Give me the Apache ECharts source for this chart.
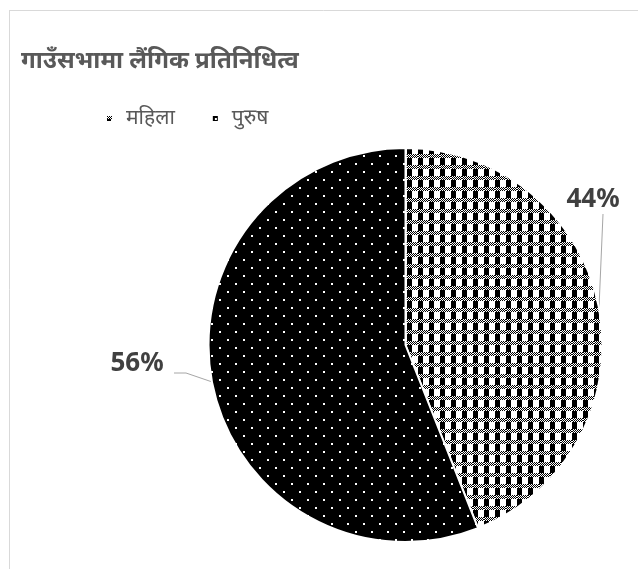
<!DOCTYPE html>
<html>
<head>
<meta charset="utf-8">
<script src="https://cdn.jsdelivr.net/npm/echarts@6/dist/echarts.min.js"></script>
<style>
html,body{margin:0;padding:0;background:#fff;}
#chart{width:638px;height:569px;}
</style>
</head>
<body>
<div id="chart"></div>
<script>
const titleText = 'गाउँसभामा लैंगिक प्रतिनिधित्व';
const categories = ['महिला', 'पुरुष'];
const values = [44, 56];

function checkerPattern() {
  const s = 11;
  const c = document.createElement('canvas');
  c.width = s; c.height = s;
  const ctx = c.getContext('2d');
  ctx.fillStyle = '#fff';
  ctx.fillRect(0, 0, s, s);
  ctx.fillStyle = '#000';
  for (let y = 0; y < 4; y++) {
    for (let x = 0; x < s; x++) {
      if ((x + y) % 2 === 0) ctx.fillRect(x, y, 1, 1);
    }
  }
  ctx.fillRect(0, 4, 5, 7);
  return c;
}
function dotPattern() {
  const s = 16;
  const c = document.createElement('canvas');
  c.width = s; c.height = s;
  const ctx = c.getContext('2d');
  ctx.fillStyle = '#000';
  ctx.fillRect(0, 0, s, s);
  ctx.fillStyle = '#fff';
  ctx.fillRect(3, 3, 2, 2);
  ctx.fillRect(11, 11, 2, 2);
  return c;
}

const patterns = [checkerPattern(), dotPattern()];
const chart = echarts.init(document.getElementById('chart'), null, {renderer: 'canvas'});

const option = {
  animation: false,
  backgroundColor: '#fff',
  title: {
    text: titleText,
    left: 16,
    top: 44,
    textStyle: {
      fontFamily: 'Noto Sans, sans-serif',
      fontSize: 24,
      fontWeight: 'bold',
      color: '#595959'
    }
  },
  legend: {
    left: 100,
    top: 103,
    icon: 'rect',
    itemWidth: 7,
    itemHeight: 7,
    itemGap: 36,
    textStyle: {
      fontFamily: 'Noto Sans, sans-serif',
      fontSize: 21,
      color: '#595959',
      padding: [0, 0, 0, 8]
    },
    data: categories
  },
  graphic: [
    {type: 'line', shape: {x1: 9.5, y1: 10, x2: 9.5, y2: 569}, style: {stroke: '#d9d9d9', lineWidth: 1}},
    {type: 'line', shape: {x1: 9, y1: 10.5, x2: 638, y2: 10.5}, style: {stroke: '#d9d9d9', lineWidth: 1}}
  ],
  series: [{
    type: 'pie',
    center: [405.5, 345],
    radius: 197,
    startAngle: 90,
    clockwise: true,
    avoidLabelOverlap: false,
    itemStyle: {borderColor: '#fff', borderWidth: 2},
    label: {
      show: true,
      position: 'outside',
      formatter: '{d}%',
      fontFamily: 'Noto Sans, sans-serif',
      fontSize: 26,
      fontWeight: 'bold',
      color: '#404040'
    },
    labelLine: {
      show: true,
      length: 20,
      length2: 10,
      lineStyle: {color: '#a6a6a6', width: 1}
    },
    labelLayout: function (params) {
      const p0 = params.labelLinePoints ? params.labelLinePoints[0] : null;
      if (!p0) return {};
      if (params.dataIndex === 0) {
        return {
          x: p0[0] - 6, y: 200, align: 'center', verticalAlign: 'middle',
          labelLinePoints: [p0, [p0[0] + 4, 214], [p0[0] + 4, 214]]
        };
      }
      return {
        x: 137, y: 364, align: 'center', verticalAlign: 'middle',
        labelLinePoints: [p0, [186, 373], [174, 373]]
      };
    },
    data: categories.map((n, i) => ({
      name: n,
      value: values[i],
      itemStyle: {color: {image: patterns[i], repeat: 'repeat'}}
    }))
  }]
};
chart.setOption(option);
</script>
</body>
</html>
